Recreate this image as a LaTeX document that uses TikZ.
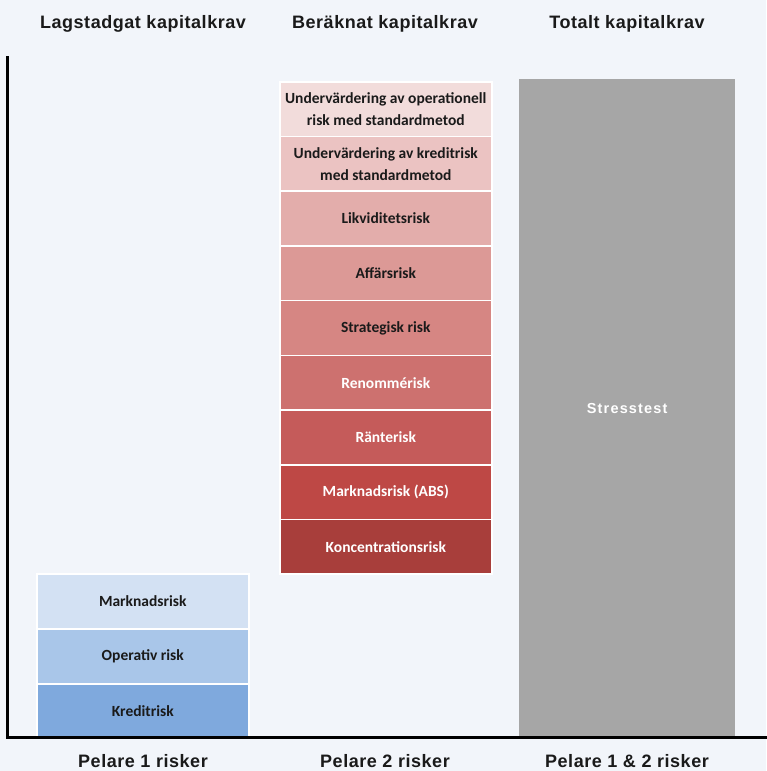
\documentclass[tikz,border=0pt]{standalone}
\usepackage{fontspec}
\setmainfont{Liberation Sans}
\newfontfamily\boxfont{Carlito}
\definecolor{bg}{HTML}{F2F5FA}
\definecolor{txt}{HTML}{1A1A1A}
\definecolor{rA}{HTML}{F2DCDB}
\definecolor{rB}{HTML}{EBC3C2}
\definecolor{rC}{HTML}{E3ADAB}
\definecolor{rD}{HTML}{DC9996}
\definecolor{rE}{HTML}{D68683}
\definecolor{rF}{HTML}{CD716F}
\definecolor{rG}{HTML}{C55B5A}
\definecolor{rH}{HTML}{BE4845}
\definecolor{rI}{HTML}{A83E3B}
\definecolor{bA}{HTML}{D3E1F3}
\definecolor{bB}{HTML}{A9C6E9}
\definecolor{bC}{HTML}{7FA9DD}
\definecolor{grayfill}{HTML}{A6A6A6}
\begin{document}
\begin{tikzpicture}[x=1pt,y=-1pt,
  hdr/.style={font=\bfseries\fontsize{18}{20}\selectfont\addfontfeatures{LetterSpace=3}, text=txt, anchor=base},
  ftr/.style={hdr, inner sep=0pt, text depth=0pt},
  riskbox/.style={draw=white, line width=1.6pt, minimum width=212pt, minimum height=54.7pt,
     inner sep=0pt, anchor=north west, align=center, text=txt,
     font=\boxfont\bfseries\fontsize{15.5}{22}\selectfont},
  light/.style={text=white}]
\fill[bg] (0,0) rectangle (766,771);
\useasboundingbox (0,0) rectangle (766,771);
% headers
\node[hdr] (h1) at (143,28) {Lagstadgat kapitalkrav};
\node[hdr] (h2) at (385,28) {Beräknat kapitalkrav};
\node[hdr] (h3) at (627,28) {Totalt kapitalkrav};
% footers
\node[ftr] (f1) at (143,767.5) {Pelare 1 risker};
\node[ftr] (f2) at (385,767.5) {Pelare 2 risker};
\node[ftr] (f3) at (627,767.5) {Pelare 1 \& 2 risker};
% gray total
\node[fill=grayfill, minimum width=216pt, minimum height=658pt, inner sep=0pt, anchor=north west,
  text=white, font=\bfseries\fontsize{14.5}{16}\selectfont\addfontfeatures{LetterSpace=8}] (stress) at (519,79) {Stresstest};
% red stack
\node[riskbox, fill=rA] (r1) at (279,81) {Undervärdering av operationell\\risk med standardmetod};
\node[riskbox, fill=rB] (r2) at (279,135.7) {Undervärdering av kreditrisk\\med standardmetod};
\node[riskbox, fill=rC] (r3) at (279,190.4) {Likviditetsrisk};
\node[riskbox, fill=rD] (r4) at (279,245.1) {Affärsrisk};
\node[riskbox, fill=rE] (r5) at (279,299.8) {Strategisk risk};
\node[riskbox, fill=rF, light] (r6) at (279,354.5) {Renommérisk};
\node[riskbox, fill=rG, light] (r7) at (279,409.2) {Ränterisk};
\node[riskbox, fill=rH, light] (r8) at (279,463.9) {Marknadsrisk (ABS)};
\node[riskbox, fill=rI, light] (r9) at (279,518.6) {Koncentrationsrisk};
% blue stack
\node[riskbox, fill=bA] (b1) at (36,573) {Marknadsrisk};
\node[riskbox, fill=bB] (b2) at (36,628) {Operativ risk};
\node[riskbox, fill=bC] (b3) at (36,683) {Kreditrisk};
% axes
\coordinate (ytop) at (7,57);
\coordinate (origin) at (7,737);
\coordinate (xend) at (766,737);
\draw[line width=3pt, line cap=rect] (ytop) -- (origin) -- (xend);
\end{tikzpicture}
\end{document}
